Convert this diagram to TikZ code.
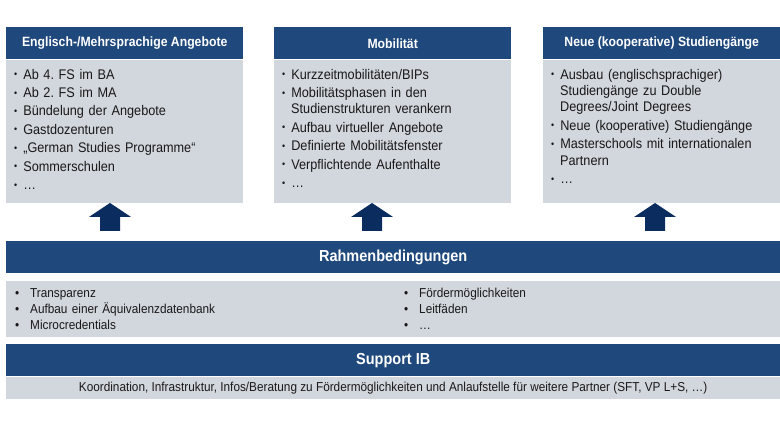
\documentclass[tikz,border=0pt]{standalone}
\usepackage{fontspec}
\setmainfont{Liberation Sans}[FakeStretch=0.91]
\usepackage{enumitem}
\usetikzlibrary{positioning}
\frenchspacing

\definecolor{ibblue}{RGB}{31,72,124}
\definecolor{ibnavy}{RGB}{10,44,94}
\definecolor{ibgrey}{RGB}{210,214,221}
\definecolor{ibtext}{RGB}{25,25,25}

\newlist{boxlist}{itemize}{1}
\setlist[boxlist]{label=\raisebox{.1em}{\scalebox{.7}{\textbullet}}, leftmargin=9bp, labelwidth=3bp, labelsep=6bp, align=left, topsep=0pt, partopsep=0pt, parsep=0pt, itemsep=2bp}
\newlist{barlist}{itemize}{1}
\setlist[barlist]{label=\textbullet, leftmargin=15bp, labelwidth=5bp, labelsep=10bp, align=left, topsep=0pt, partopsep=0pt, parsep=0pt, itemsep=0pt}

\tikzset{
    head/.style={fill=ibblue, text=white, font=\fontsize{13.5}{15}\selectfont\bfseries,
        minimum width=237bp, minimum height=32bp, inner sep=0pt, anchor=north west},
    bar/.style={fill=ibblue, text=white, font=\fontsize{16}{18}\selectfont\bfseries,
        minimum width=774bp, minimum height=32bp, inner sep=0pt, anchor=north west},
    panel/.style args={#1/#2}{fill=ibgrey, minimum width=#1, minimum height=#2,
        inner sep=0pt, anchor=north west},
    listtext/.style={anchor=north west, inner sep=0pt, text width=225bp, align=left,
        text=ibtext, font=\fontsize{14}{16.5}\selectfont},
    smalltext/.style={anchor=north west, inner sep=0pt, text width=300bp, align=left,
        text=ibtext, font=\fontsize{13}{16}\selectfont},
    pics/uparrow/.style={
    code = {
        \fill[ibnavy] (-10,0) -- (-10,-14) -- (-21,-14) -- (0,-28)
            -- (21,-14) -- (10,-14) -- (10,0) -- cycle;
    }}
}

\begin{document}
\begin{tikzpicture}[x=1bp,y=-1bp]
    \fill[white] (0,0) rectangle (780,438);
    \useasboundingbox (0,0) rectangle (780,438);

    % top boxes
    \node[head] (h1) at (6,27) {Englisch-/Mehrsprachige Angebote};
    \node[panel=237bp/143bp] (b1) at (h1.south west) {};
    \node[listtext] (l1) at ([xshift=8bp,yshift=-3bp]b1.north west) {%
        \begin{boxlist}
        \item Ab 4. FS im BA
        \item Ab 2. FS im MA
        \item Bündelung der Angebote
        \item Gastdozenturen
        \item „German Studies Programme“
        \item Sommerschulen
        \item …
        \end{boxlist}};

    \node[head] (h2) at (274,27) {Mobilität};
    \node[panel=237bp/143bp] (b2) at (h2.south west) {};
    \node[listtext] (l2) at ([xshift=8bp,yshift=-3bp]b2.north west) {%
        \begin{boxlist}
        \item Kurzzeitmobilitäten/BIPs
        \item Mobilitätsphasen in den\\Studienstrukturen verankern
        \item Aufbau virtueller Angebote
        \item Definierte Mobilitätsfenster
        \item Verpflichtende Aufenthalte
        \item …
        \end{boxlist}};

    \node[head] (h3) at (543,27) {Neue (kooperative) Studiengänge};
    \node[panel=237bp/143bp] (b3) at (h3.south west) {};
    \node[listtext] (l3) at ([xshift=8bp,yshift=-3bp]b3.north west) {%
        \begin{boxlist}
        \item Ausbau (englischsprachiger)\\Studiengänge zu Double\\Degrees/Joint Degrees
        \item Neue (kooperative) Studiengänge
        \item Masterschools mit internationalen\\Partnern
        \item …
        \end{boxlist}};

    % arrows
    \coordinate (a1) at (110,231);
    \coordinate (a2) at (372,231);
    \coordinate (a3) at (655,231);
    \pic at (a1) {uparrow};
    \pic at (a2) {uparrow};
    \pic at (a3) {uparrow};

    % Rahmenbedingungen
    \node[bar] (rb) at (6,241) {Rahmenbedingungen};
    \node[panel=774bp/56bp] (rl) at (6,281) {};
    \node[smalltext] (rl1) at ([xshift=9bp,yshift=0bp]rl.north west) {%
        \begin{barlist}
        \item Transparenz
        \item Aufbau einer Äquivalenzdatenbank
        \item Microcredentials
        \end{barlist}};
    \node[smalltext] (rl2) at ([xshift=398bp,yshift=0bp]rl.north west) {%
        \begin{barlist}
        \item Fördermöglichkeiten
        \item Leitfäden
        \item …
        \end{barlist}};

    % Support IB
    \node[bar] (sb) at (6,344) {Support IB};
    \node[panel=774bp/22bp, text=ibtext, font=\fontsize{13}{15}\selectfont] (sl) at (6,377)
        {Koordination, Infrastruktur, Infos/Beratung zu Fördermöglichkeiten und Anlaufstelle für weitere Partner (SFT, VP L+S, …)};
\end{tikzpicture}
\end{document}
